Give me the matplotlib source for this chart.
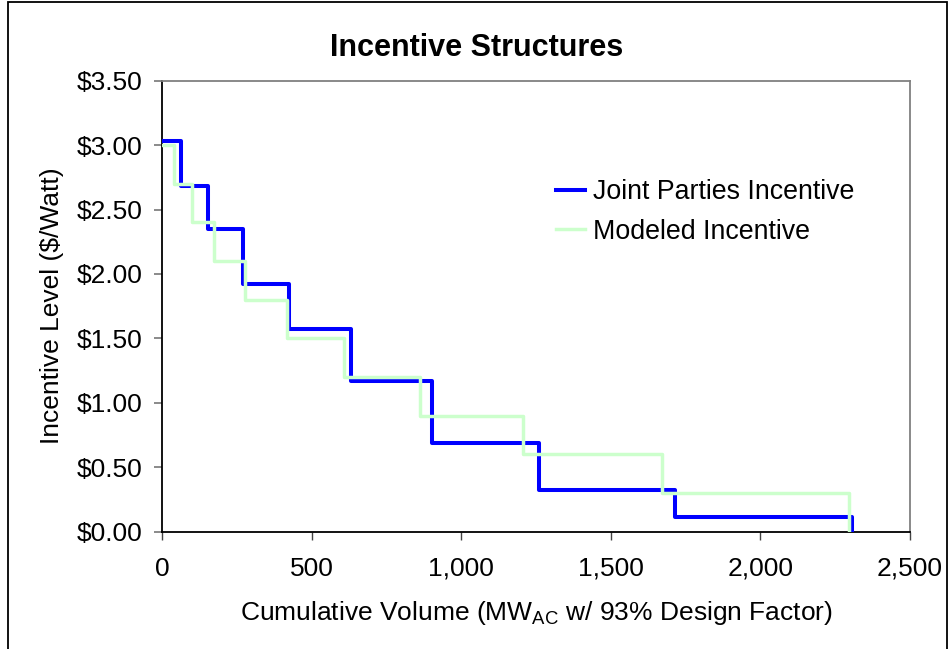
import numpy as np
import matplotlib
matplotlib.use("Agg")
import matplotlib.pyplot as plt
from matplotlib.patches import Rectangle
from matplotlib.ticker import FuncFormatter

#-------------------------------------------------------------------------------
# DATA
joint_edges  = [0, 64, 153, 271, 424, 631, 901, 1260, 1716, 2305]
joint_levels = [3.03, 2.68, 2.35, 1.92, 1.57, 1.17, 0.69, 0.32, 0.11]

model_edges  = [0, 40, 100, 175, 278, 418, 608, 862, 1208, 1671, 2296]
model_levels = [3.00, 2.70, 2.40, 2.10, 1.80, 1.50, 1.20, 0.90, 0.60, 0.30]

x_ticks = [0, 500, 1000, 1500, 2000, 2500]
y_ticks = [0.0, 0.5, 1.0, 1.5, 2.0, 2.5, 3.0, 3.5]
#-------------------------------------------------------------------------------

params = {'font.family'      : ['Liberation Sans', 'DejaVu Sans'],
          'font.size'        : 19,
          'mathtext.fontset' : 'custom',
          'mathtext.rm'      : 'Liberation Sans',
          'mathtext.it'      : 'Liberation Sans:italic',
          'mathtext.bf'      : 'Liberation Sans:bold',
         }
matplotlib.rcParams.update(params)

W, H = 948, 649
fig = plt.figure(figsize=(W / 100., H / 100.), dpi=100)
ax = fig.add_axes([162. / W, 1 - 531.5 / H, (910. - 162.) / W, (531.5 - 80.7) / H])

# step lines, last point drops to zero
jx = np.array(joint_edges, dtype=float)
jy = np.array(joint_levels + [0.0])
mx = np.array(model_edges, dtype=float)
my = np.array(model_levels + [0.0])

ax.step(jx, jy, where='post', color='#0000FF', lw=2.9, label='Joint Parties Incentive', zorder=3)
ax.step(mx, my, where='post', color='#CCFFCC', lw=2.5, label='Modeled Incentive', zorder=4)

ax.set_xlim(0, 2500)
ax.set_ylim(0, 3.5)
ax.set_xticks(x_ticks)
ax.set_yticks(y_ticks)
ax.xaxis.set_major_formatter(FuncFormatter(lambda v, p: "{:,.0f}".format(v)))
ax.yaxis.set_major_formatter(FuncFormatter(lambda v, p: "${:.2f}".format(v)))
ax.tick_params(axis='x', direction='out', length=6, width=1, color='#444444', pad=12)
ax.tick_params(axis='y', direction='out', length=6, width=1.2, color='#777777', pad=8)

for s in ['left', 'bottom']:
    ax.spines[s].set_color('black')
    ax.spines[s].set_linewidth(1.3)
for s in ['top', 'right']:
    ax.spines[s].set_color('#808080')
    ax.spines[s].set_linewidth(1.3)

ax.set_xlabel(r"Cumulative Volume (MW$_{\mathregular{AC}}$ w/ 93% Design Factor)", labelpad=13)
ax.set_ylabel("Incentive Level ($/Watt)", labelpad=9)

fig.text(477. / W, 1 - 48. / H, "Incentive Structures", ha='center', va='center',
         fontsize=22, fontweight='bold')

leg = ax.legend(loc='upper left', bbox_to_anchor=(0.513, 0.805), frameon=False,
                fontsize=19.3, handlelength=1.05, handletextpad=0.3, labelspacing=0.5,
                borderaxespad=0.)

# outer chart border
fig.patches.append(Rectangle((8. / W, -0.05), (946.5 - 8.) / W, 1.05 - 1.7 / H,
                             transform=fig.transFigure, fill=False,
                             edgecolor='black', lw=1.3))

fig.savefig("out.png", dpi=100)
